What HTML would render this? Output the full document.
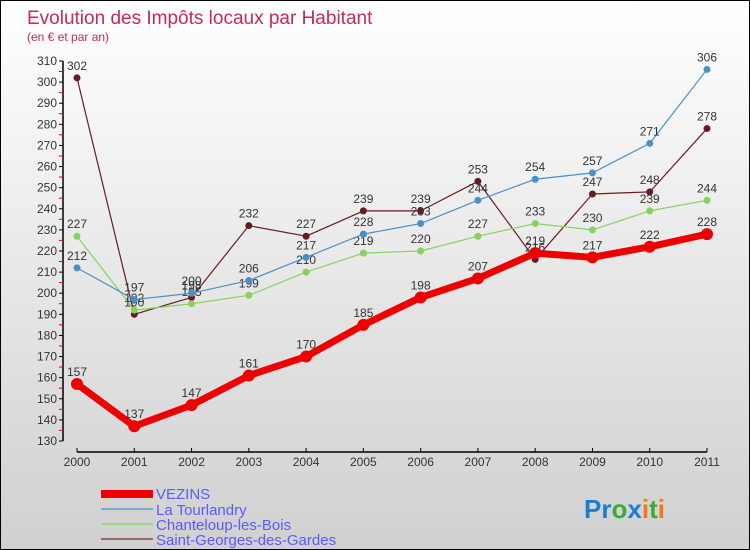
<!DOCTYPE html>
<html><head><meta charset="utf-8"><style>
body{margin:0}
#wrap{width:750px;height:550px;position:relative;background:linear-gradient(#ffffff,#d0d0d0);border:1px solid #000;box-sizing:border-box;overflow:hidden;font-family:"Liberation Sans",sans-serif}
</style></head><body>
<div id="wrap">
<svg id="c" width="750" height="550" style="position:absolute;left:0;top:0">
<text x="26" y="23" font-size="19" fill="#c8285a">Evolution des Impôts locaux par Habitant</text>
<text x="26" y="40" font-size="12" fill="#c8285a">(en € et par an)</text>
<g id="axes"></g><g id="series"></g>
<g>
<rect x="100" y="489" width="52" height="8" fill="#e00"/>
<text x="155" y="498" font-size="15" fill="#5a5aff">VEZINS</text>
<line x1="100" y1="508" x2="152" y2="508" stroke="#7aaad0" stroke-width="2"/>
<text x="155" y="514" font-size="15" fill="#5a5aff">La Tourlandry</text>
<line x1="100" y1="523" x2="152" y2="523" stroke="#99dd77" stroke-width="2"/>
<text x="155" y="529" font-size="15" fill="#5a5aff">Chanteloup-les-Bois</text>
<line x1="100" y1="538" x2="152" y2="538" stroke="#996666" stroke-width="2"/>
<text x="155" y="544" font-size="15" fill="#5a5aff">Saint-Georges-des-Gardes</text>
</g>
<text x="583" y="517" font-size="26" font-weight="bold"><tspan fill="#1a7fd0">Pr</tspan><tspan fill="#3aaa3a">o</tspan><tspan fill="#1a7fd0">x</tspan><tspan fill="#f07a10">i</tspan><tspan fill="#3aaa3a">t</tspan><tspan fill="#f07a10">i</tspan></text>
</svg></div>
<script>
const years=[2000,2001,2002,2003,2004,2005,2006,2007,2008,2009,2010,2011];
const yTicks=[130,140,150,160,170,180,190,200,210,220,230,240,250,260,270,280,290,300,310];
const vezins=[157,137,147,161,170,185,198,207,219,217,222,228];
const tourlandry=[212,197,200,206,217,228,233,244,254,257,271,306];
const chanteloup=[227,192,195,199,210,219,220,227,233,230,239,244];
const saintGeorges=[302,190,198,232,227,239,239,253,216,247,248,278];
const NS="http://www.w3.org/2000/svg";
function X(i){return 76+i*(706-76)/(years.length-1);}
function Y(v){return 60+(310-v)*(440-60)/180;}
function mk(t,a,p){const e=document.createElementNS(NS,t);for(const k in a)e.setAttribute(k,a[k]);p.appendChild(e);return e;}
const ax=document.getElementById('axes');
let l=mk('line',{x1:62,y1:Y(310),x2:62,y2:Y(130),stroke:'#000','stroke-width':1.5},ax);


yTicks.forEach(v=>{
 let t=mk('line',{x1:58,y1:Y(v),x2:62,y2:Y(v),stroke:'#000'},ax);
 
 
 if(v>yTicks[0]){
  let r=mk('line',{x1:58,y1:Y(v)+10.5,x2:62,y2:Y(v)+10.5,stroke:'#e00'},ax);
  
  
 }
 let tx=mk('text',{x:56,y:Y(v)+4,'font-size':12,fill:'#333','text-anchor':'end'},ax);
 tx.textContent=v;
 
 
});
let xa=mk('line',{x1:X(0),y1:451,x2:X(11),y2:451,stroke:'#000','stroke-width':1.5},ax);


years.forEach((y,i)=>{
 let t=mk('line',{x1:X(i),y1:447,x2:X(i),y2:451,stroke:'#000'},ax);
 
 
 let tx=mk('text',{x:X(i),y:465,'font-size':12,fill:'#333','text-anchor':'middle'},ax);
 tx.textContent=y;
 
 
});
const sg=document.getElementById('series');
function draw(vals,color,w,r,name){
 const g=mk('g',{},sg);
 
 
 const p=mk('polyline',{points:vals.map((v,i)=>X(i)+','+Y(v)).join(' '),fill:'none',stroke:color,'stroke-width':w,'stroke-linejoin':'round'},g);
 
 
 vals.forEach((v,i)=>{
  const c=mk('circle',{cx:X(i),cy:Y(v),r:r,fill:color},g);
  
  
  const t=mk('text',{x:X(i),y:Y(v)-8,'font-size':12,fill:'#333','text-anchor':'middle'},g);
  t.textContent=v;
  
  
 });
}
draw(saintGeorges,'#6a1a22',1.2,3.5,'saint-georges');
draw(chanteloup,'#88d060',1.2,3.5,'chanteloup');
draw(tourlandry,'#4a90c8',1.2,3.5,'la-tourlandry');
draw(vezins,'#ee0000',7,6,'vezins');
</script>
</body></html>
